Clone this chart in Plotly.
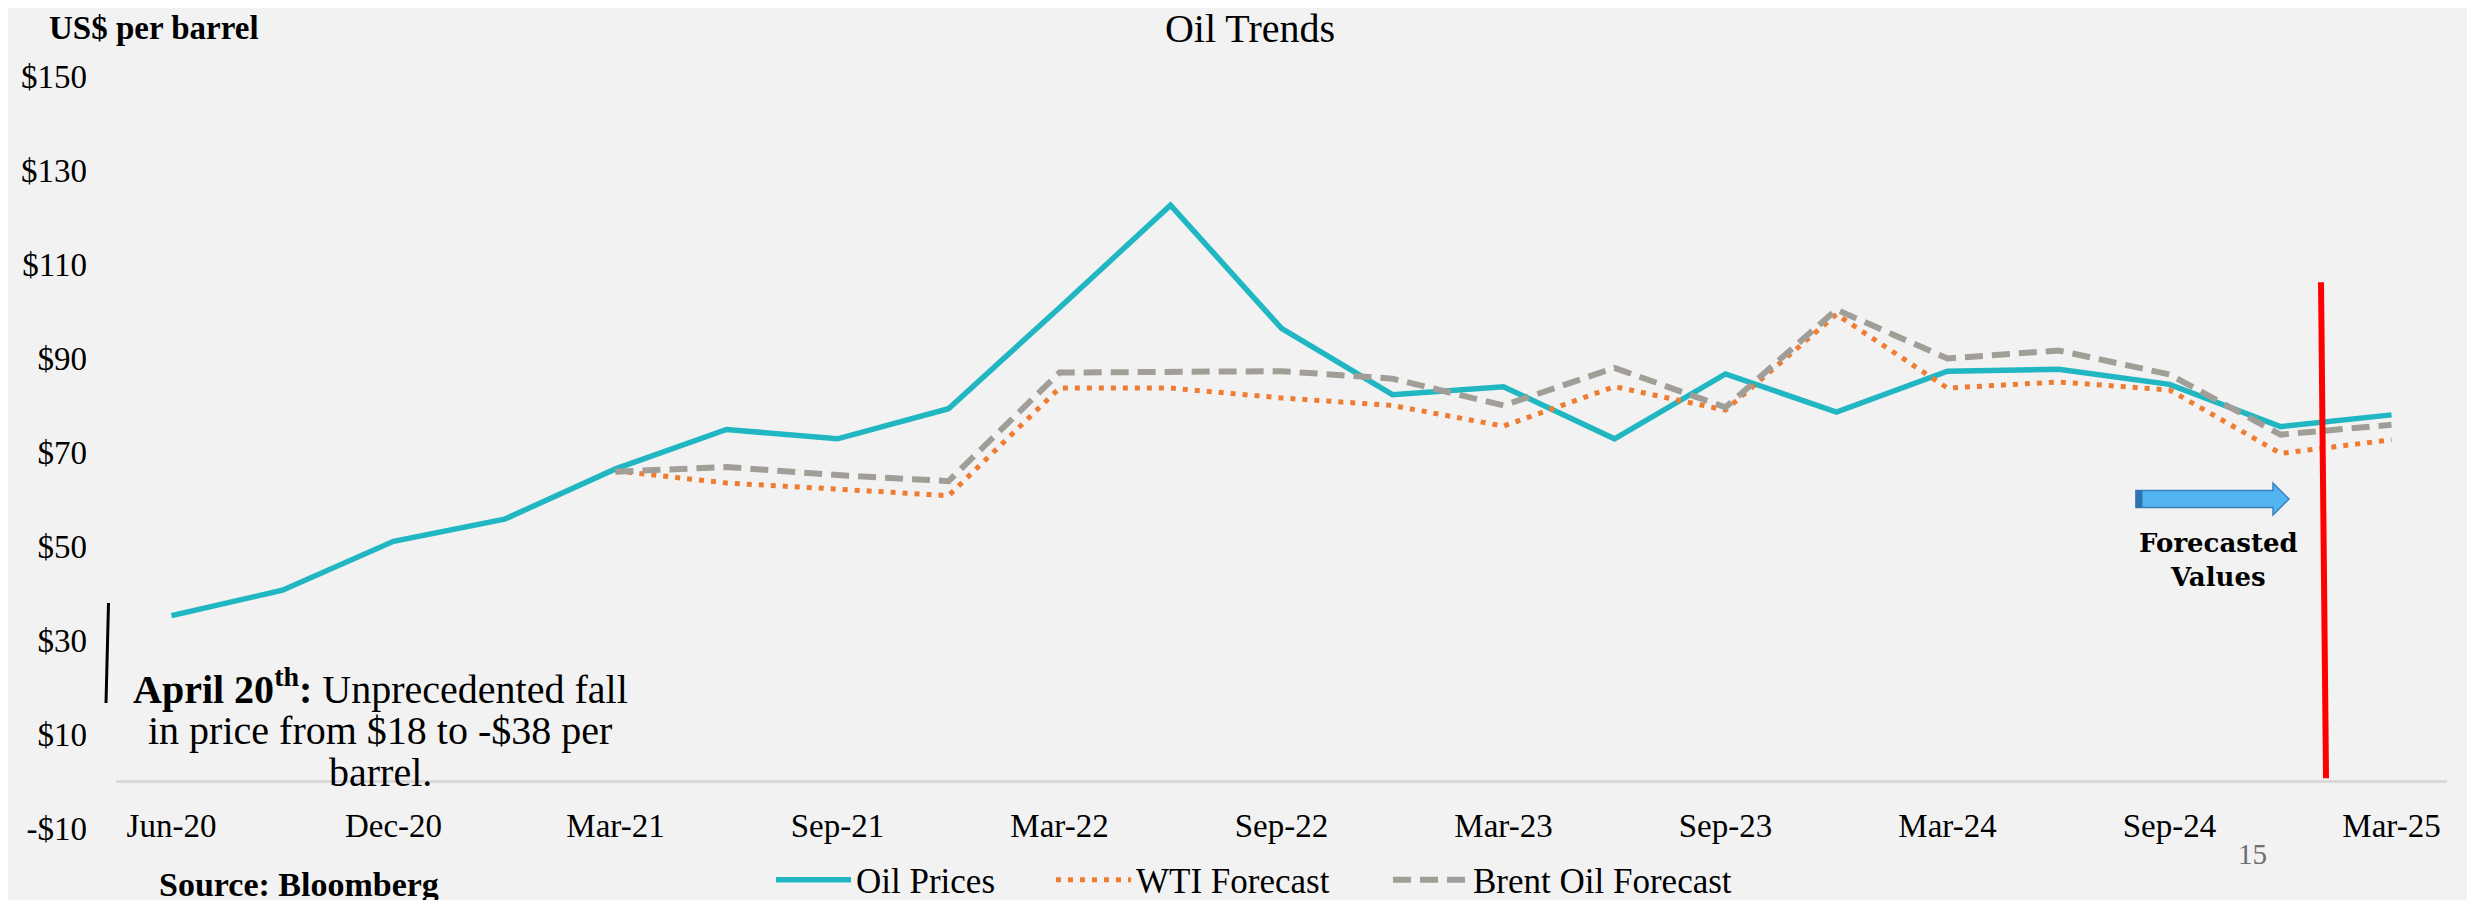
import plotly.graph_objects as go

# ---------------- data ----------------
categories = ["Jun-20", "Sep-20", "Dec-20", "Feb-21", "Mar-21", "Jun-21", "Sep-21", "Dec-21",
              "Mar-22", "Jun-22", "Sep-22", "Dec-22", "Mar-23", "Jun-23", "Sep-23", "Dec-23",
              "Mar-24", "Jun-24", "Sep-24", "Dec-24", "Mar-25"]
oil_prices = [35.2, 40.6, 51.0, 55.7, 66.4, 74.8, 72.8, 79.2, 100.7, 122.5, 96.3, 82.2,
              83.9, 72.8, 86.6, 78.5, 87.2, 87.6, 84.4, 75.4, 77.9]
wti_forecast = [None, None, None, None, 66.0, 63.4, 62.1, 60.7, 83.6, 83.6, 81.5, 79.9,
                75.5, 83.9, 78.9, 99.3, 83.6, 84.9, 83.2, 69.7, 72.6]
brent_forecast = [None, None, None, None, 65.8, 66.8, 65.1, 63.8, 86.9, 86.9, 87.2, 85.6,
                  79.9, 87.9, 79.5, 100.3, 89.9, 91.6, 86.5, 73.7, 75.8]
x_tickvals = ["Jun-20", "Dec-20", "Mar-21", "Sep-21", "Mar-22", "Sep-22", "Mar-23",
              "Sep-23", "Mar-24", "Sep-24", "Mar-25"]
y_tickvals = [-10, 10, 30, 50, 70, 90, 110, 130, 150]
y_ticktext = ["-$10", "$10", "$30", "$50", "$70", "$90", "$110", "$130", "$150"]

# ---------------- layout helpers ----------------
W, H = 2475, 900
OFF = 8  # page body margin offset of the rendered html
L, R, T, B = 108, 36, 68, 80
PW, PH = W - L - R, H - T - B
FONT = "Liberation Serif"
BG = "#F2F2F2"


def px(xpix):
    """screen x pixel -> paper x"""
    return (xpix - OFF - L) / PW


def py(ypix):
    """screen y pixel -> paper y"""
    return (H - B - (ypix - OFF)) / PH


fig = go.Figure()
fig.add_trace(go.Scatter(x=categories, y=oil_prices, name="Oil Prices", mode="lines",
                         line=dict(color="#21B7C2", width=5.5), legend="legend"))
fig.add_trace(go.Scatter(x=categories, y=wti_forecast, name="WTI Forecast", mode="lines",
                         line=dict(color="#EE7D31", width=5, dash="5px,7px"), legend="legend2"))
fig.add_trace(go.Scatter(x=categories, y=brent_forecast, name="Brent Oil Forecast", mode="lines",
                         line=dict(color="#A09E97", width=6, dash="18px,9px"), legend="legend3"))

shapes = []
# red forecast divider
shapes.append(dict(type="line", xref="x", yref="y", x0=19.365, y0=106.1, x1=19.41, y1=0.6,
                   line=dict(color="#FF0000", width=6), layer="above"))
# black marker line at left
shapes.append(dict(type="line", xref="paper", yref="paper", x0=px(108.5), y0=py(603),
                   x1=px(106), y1=py(703), line=dict(color="black", width=3)))
# blue arrow
ax0, ahx, atip = 2136, 2273, 2289
ay, bh, hh = 499, 8.5, 16
path = (f"M {px(ax0)},{py(ay-bh)} L {px(ahx)},{py(ay-bh)} L {px(ahx)},{py(ay-hh)} "
        f"L {px(atip)},{py(ay)} L {px(ahx)},{py(ay+hh)} L {px(ahx)},{py(ay+bh)} "
        f"L {px(ax0)},{py(ay+bh)} Z")
shapes.append(dict(type="path", xref="paper", yref="paper", path=path,
                   fillcolor="#52B4F0", line=dict(color="#3A80BD", width=1.5)))
shapes.append(dict(type="rect", xref="paper", yref="paper", x0=px(ax0), x1=px(ax0 + 6),
                   y0=py(ay + bh), y1=py(ay - bh), fillcolor="#2F74B0",
                   line=dict(color="#2F74B0", width=1)))

note_lines = ["<b>April 20<sup>th</sup>:</b> Unprecedented fall",
              "in price from $18 to -$38 per",
              "barrel."]
note_y = [686, 730, 772]

annotations = [
    dict(text="<b>US$ per barrel</b>", xref="paper", yref="paper", x=px(47), y=py(28),
         xanchor="left", yanchor="middle", showarrow=False,
         font=dict(family=FONT, size=33, color="black")),
    dict(text="<b>Forecasted<br>Values</b>", xref="paper", yref="paper", x=px(2218), y=py(560),
         xanchor="center", yanchor="middle", align="center", showarrow=False,
         font=dict(family="DejaVu Serif", size=26, color="black")),
    dict(text="<b>Source: Bloomberg</b>", xref="paper", yref="paper", x=px(299), y=py(884),
         xanchor="center", yanchor="middle", showarrow=False,
         font=dict(family=FONT, size=34, color="black")),
    dict(text="15", xref="paper", yref="paper", x=px(2252), y=py(854),
         xanchor="center", yanchor="middle", showarrow=False,
         font=dict(family=FONT, size=29, color="#6E6E6E")),
]
for txt, yy in zip(note_lines, note_y):
    annotations.append(dict(text=txt, xref="paper", yref="paper", x=px(380), y=py(yy),
                            xanchor="center", yanchor="middle", showarrow=False,
                            font=dict(family=FONT, size=40, color="black")))


def legend_at(xpix):
    return dict(orientation="h", x=px(xpix - 5), xanchor="left", y=py(880), yanchor="middle",
                font=dict(family=FONT, size=35, color="black"), bgcolor="rgba(0,0,0,0)",
                itemwidth=75)


fig.update_layout(
    width=W, height=H,
    paper_bgcolor=BG, plot_bgcolor=BG,
    margin=dict(l=L, r=R, t=T, b=B, autoexpand=False),
    title=dict(text="Oil Trends", x=(1250 - OFF) / W, xref="container", xanchor="center",
               y=1 - (28 - OFF) / H, yref="container", yanchor="middle",
               font=dict(family=FONT, size=40, color="black")),
    showlegend=True,
    legend=legend_at(776),
    legend2=legend_at(1056),
    legend3=legend_at(1393),
    shapes=shapes,
    annotations=annotations,
    xaxis=dict(type="category", categoryorder="array", categoryarray=categories,
               range=[-0.5, len(categories) - 0.5], tickvals=x_tickvals, ticktext=x_tickvals,
               showgrid=False, zeroline=False, showline=False, ticks="",
               ticklabelstandoff=-25,
               tickfont=dict(family=FONT, size=33, color="black")),
    yaxis=dict(range=[-10, 150], tickvals=y_tickvals, ticktext=y_ticktext,
               showgrid=False, zeroline=True, zerolinecolor="#D9D9D9", zerolinewidth=2.5,
               showline=False, ticks="", ticklabelstandoff=28,
               tickfont=dict(family=FONT, size=33, color="black")),
)

fig.write_html("out.html")
